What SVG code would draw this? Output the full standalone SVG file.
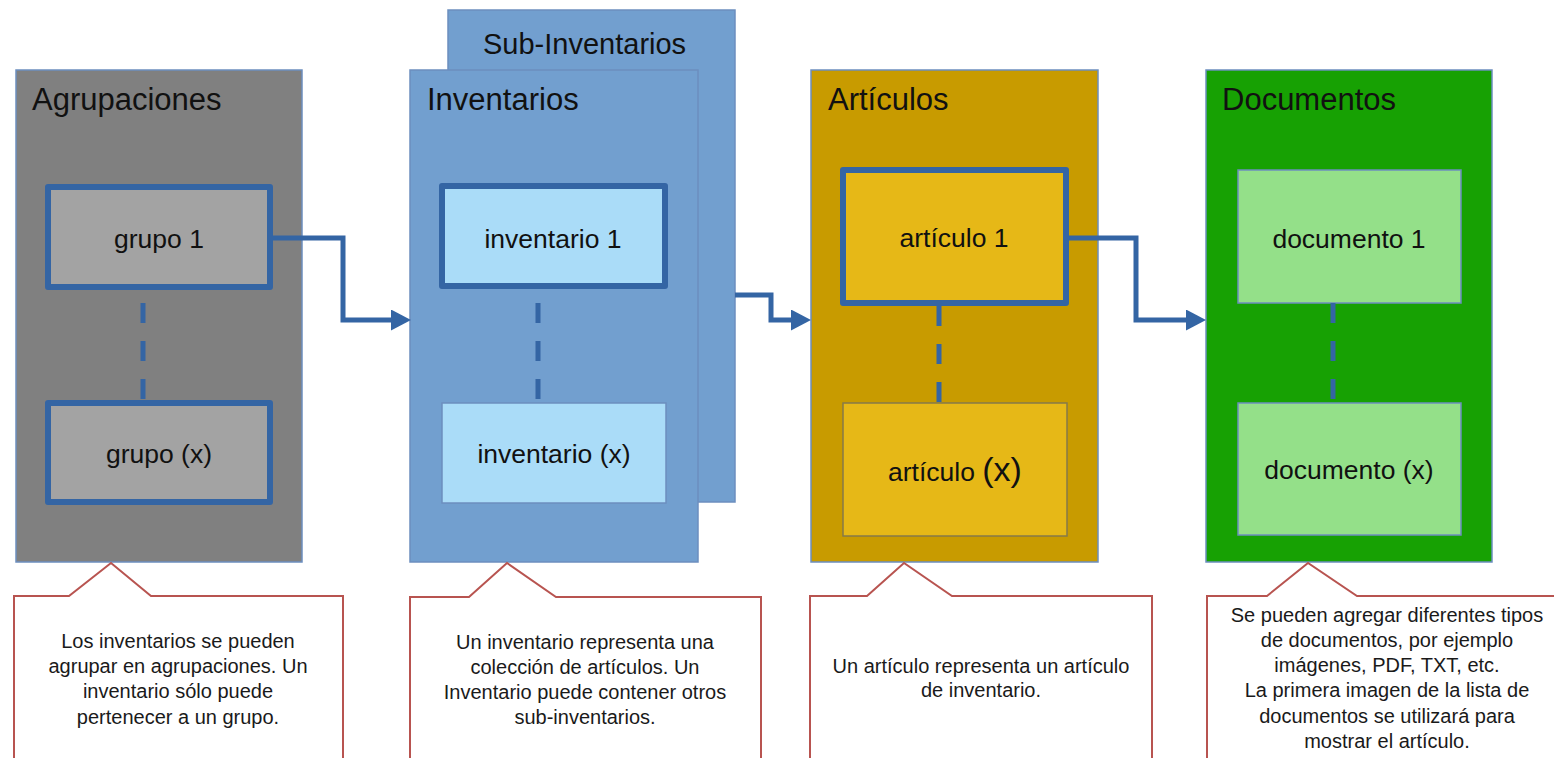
<svg xmlns="http://www.w3.org/2000/svg" width="1554" height="758" viewBox="0 0 1554 758">
<defs>
<style>
text{font-family:"Liberation Sans",Arial,sans-serif;fill:#111}
.panel{stroke:#6c8ebf;stroke-width:1.5}
.title{font-size:31px}
.lbl{font-size:26.5px;text-anchor:middle}
.thick{stroke:#3465a4;stroke-width:6;stroke-linejoin:round}
.thin{stroke:#6c8ebf;stroke-width:1.5}
.dash{stroke:#3465a4;stroke-width:5;stroke-dasharray:20 18;fill:none}
.conn{stroke:#3465a4;stroke-width:5;fill:none;stroke-linejoin:miter}
.call{fill:#fff;stroke:#b85450;stroke-width:2}
.ctext{font-size:20px;text-anchor:middle;fill:#1a1a1a}
</style>
<marker id="arr" markerUnits="userSpaceOnUse" markerWidth="21" markerHeight="22" refX="1" refY="10.5" orient="auto">
<path d="M0,0 L20,10.5 L0,21 z" fill="#3465a4"/>
</marker>
</defs>
<rect width="1554" height="758" fill="#fff"/>

<g id="agrupaciones">
<rect class="panel" x="16" y="70" width="286" height="492" fill="#808080"/>
<text class="title" x="32" y="110">Agrupaciones</text>
</g>
<g id="grupo1">
<rect class="thick" x="48" y="187" width="222" height="100" fill="#a3a3a3"/>
<text class="lbl" x="159" y="248">grupo 1</text>
</g>
<g id="grupoX">
<rect class="thick" x="48" y="403" width="222" height="99" fill="#a3a3a3"/>
<text class="lbl" x="159" y="463">grupo (x)</text>
</g>

<g id="subinventarios">
<rect class="panel" x="448" y="10" width="287" height="492" fill="#729fcf"/>
<text x="483" y="54" style="font-size:29px">Sub-Inventarios</text>
</g>
<g id="inventarios">
<rect class="panel" x="410" y="70" width="288" height="492" fill="#729fcf"/>
<text class="title" x="427" y="110">Inventarios</text>
</g>
<g id="inventario1">
<rect class="thick" x="442" y="186" width="223" height="100" fill="#aadcf8"/>
<text class="lbl" x="553" y="248">inventario 1</text>
</g>
<g id="inventarioX">
<rect class="thin" x="442" y="403" width="224" height="100" fill="#aadcf8"/>
<text class="lbl" x="554" y="463">inventario (x)</text>
</g>

<g id="articulos">
<rect class="panel" x="811" y="70" width="287" height="492" fill="#c89b00"/>
<text class="title" x="828" y="110">Artículos</text>
</g>
<g id="articulo1">
<rect class="thick" x="843" y="170" width="223" height="133" fill="#e6b817"/>
<text class="lbl" x="954" y="247">artículo 1</text>
</g>
<g id="articuloX">
<rect x="843" y="403" width="224" height="133" fill="#e6b817" stroke="#857a4a" stroke-width="1.5"/>
<text class="lbl" x="955" y="481">artículo <tspan style="font-size:34px">(x)</tspan></text>
</g>

<g id="documentos">
<rect class="panel" x="1206" y="70" width="286" height="492" fill="#17a103"/>
<text class="title" x="1222" y="110">Documentos</text>
</g>
<g id="documento1">
<rect class="thin" x="1238" y="170" width="223" height="133" fill="#94e089"/>
<text class="lbl" x="1349" y="248">documento 1</text>
</g>
<g id="documentoX">
<rect class="thin" x="1238" y="403" width="223" height="132" fill="#94e089"/>
<text class="lbl" x="1349" y="479">documento (x)</text>
</g>

<g id="connectors">
<line class="dash" x1="143" y1="303" x2="143" y2="400"/>
<line class="dash" x1="538" y1="303" x2="538" y2="403"/>
<line class="dash" x1="939" y1="306" x2="939" y2="403"/>
<line class="dash" x1="1333" y1="303" x2="1333" y2="403"/>
<path class="conn" d="M273,238 H343 V320 H392" marker-end="url(#arr)"/>
<path class="conn" d="M735,295 H771 V320 H792" marker-end="url(#arr)"/>
<path class="conn" d="M1069,238 H1136 V320 H1187" marker-end="url(#arr)"/>
</g>

<g id="callout1">
<path class="call" d="M14,596 H69 L111,563 L151,596 H343 V770 H14 Z"/>
<text class="ctext" x="178" y="648">Los inventarios se pueden</text>
<text class="ctext" x="178" y="673">agrupar en agrupaciones. Un</text>
<text class="ctext" x="178" y="698">inventario sólo puede</text>
<text class="ctext" x="178" y="724">pertenecer a un grupo.</text>
</g>
<g id="callout2">
<path class="call" d="M410,597 H469 L507,563 L556,597 H761 V770 H410 Z"/>
<text class="ctext" x="585" y="649">Un inventario representa una</text>
<text class="ctext" x="585" y="674">colección de artículos. Un</text>
<text class="ctext" x="585" y="699">Inventario puede contener otros</text>
<text class="ctext" x="585" y="724">sub-inventarios.</text>
</g>
<g id="callout3">
<path class="call" d="M810,596 H867 L904,563 L952,596 H1152 V770 H810 Z"/>
<text class="ctext" x="981" y="673">Un artículo representa un artículo</text>
<text class="ctext" x="981" y="697">de inventario.</text>
</g>
<g id="callout4">
<path class="call" d="M1207,596 H1267 L1308,563 L1357,596 H1570 V770 H1207 Z"/>
<text class="ctext" x="1387" y="622">Se pueden agregar diferentes tipos</text>
<text class="ctext" x="1387" y="647">de documentos, por ejemplo</text>
<text class="ctext" x="1387" y="672">imágenes, PDF, TXT, etc.</text>
<text class="ctext" x="1387" y="697">La primera imagen de la lista de</text>
<text class="ctext" x="1387" y="723">documentos se utilizará para</text>
<text class="ctext" x="1387" y="748">mostrar el artículo.</text>
</g>
</svg>
